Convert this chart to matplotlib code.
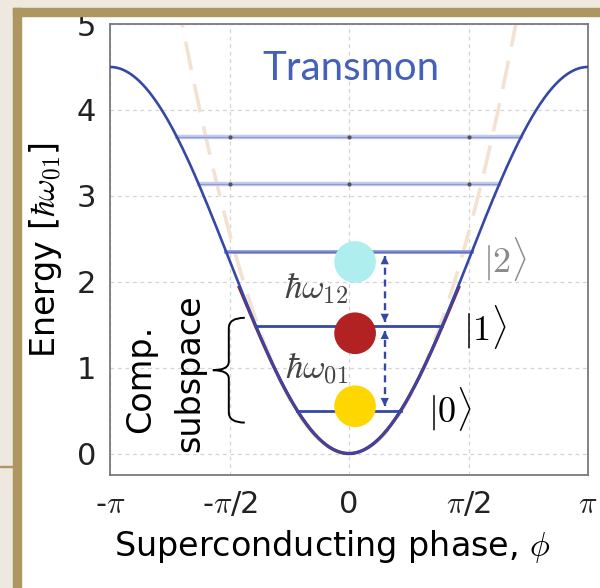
import numpy as np
import matplotlib
matplotlib.use("Agg")
import matplotlib.pyplot as plt
from matplotlib.patches import Rectangle, PathPatch
from matplotlib.path import Path

plt.rcParams["font.family"] = ["DejaVu Sans"]
plt.rcParams["mathtext.fontset"] = "cm"

# --- data ---
phase_ticks = [-np.pi, -np.pi / 2, 0, np.pi / 2, np.pi]
phase_tick_labels = [r"-$\pi$", r"-$\pi$/2", "0", r"$\pi$/2", r"$\pi$"]
energy_ticks = [0, 1, 2, 3, 4, 5]

barrier_height = 4.5          # cosine potential maximum at +-pi
harmonic_coeff = 1.04         # dashed harmonic guide, E = c * phi^2
level_energies = [0.50, 1.48, 2.35, 3.14, 3.69]

state_labels = [r"$|\mathsf{0}\rangle$", r"$|\mathsf{1}\rangle$", r"$|2\rangle$"]
state_phase = [1.33, 1.79, 2.05]
state_energy = [0.52, 1.47, 2.27]
state_colors = ["black", "black", "#8a8a8a"]

qubit_colors = ["#ffd700", "#b22222", "#afeeee"]
qubit_energies = [0.55, 1.40, 2.23]
qubit_phase = 0.08

transition_labels = [r"$\hbar\omega_{01}$", r"$\hbar\omega_{12}$"]
transition_label_phase = -0.43
transition_label_energy = [0.99, 1.93]
arrow_phase = 0.47

brace_span = (0.36, 1.58)
brace_phase = (-1.79, -1.37)

blue = "#3548a5"
phi = np.linspace(-np.pi, np.pi, 600)
potential = barrier_height / 2 * (1 - np.cos(phi))


def level_extent(e):
    return np.arccos(1 - 2 * e / barrier_height)


fig = plt.figure(figsize=(6.0, 5.88), dpi=100, facecolor="white")
ax = fig.add_axes([110 / 600, 1 - 475 / 588, 478 / 600, 451 / 588])

# harmonic guide
harm = harmonic_coeff * phi ** 2
ax.plot(phi[harm < 5.5], harm[harm < 5.5], color="#f3e2d2", lw=2.6,
        dashes=(8, 4), zorder=1)
# quartic approximation (hidden under the cosine)
quart = barrier_height / 2 * (phi ** 2 / 2 - phi ** 4 / 24)
m = np.abs(phi) < 1.45
ax.plot(phi[m], quart[m], color="#8b2040", lw=2.4, zorder=2)

# energy levels
for i, e in enumerate(level_energies):
    pc = level_extent(e)
    if i < 2:
        ax.plot([-pc, pc], [e, e], color=blue, lw=2.0, zorder=3)
    elif i == 2:
        ax.plot([-pc, pc], [e, e], color="#8391cf", lw=2.6, zorder=3)
        ax.plot([-pc, pc], [e, e], color="#5d6fbf", lw=0.8, zorder=3)
    else:
        ax.plot([-pc, pc], [e, e], color="#c6cdec", lw=3.2, zorder=3)
        ax.plot([-pc, pc], [e, e], color="#8d9ad3", lw=0.9, zorder=3)
        gx = [t for t in phase_ticks if abs(t) < pc]
        ax.plot(gx, [e] * len(gx), "o", ms=2, color="#555555", zorder=3)

# potential
ax.plot(phi, potential, color=blue, lw=1.9, zorder=4)

# transition arrows
gap = 0.05
for lo, hi in [(level_energies[1], level_energies[2]),
               (level_energies[0], level_energies[1])]:
    ax.plot([arrow_phase, arrow_phase], [lo + gap, hi - gap], color=blue,
            lw=1.7, dashes=(3, 2), zorder=5)
    ax.annotate("", xy=(arrow_phase, hi - gap), xytext=(arrow_phase, hi - 0.2),
                arrowprops=dict(arrowstyle="-|>", color=blue, lw=0,
                                mutation_scale=15, shrinkA=0, shrinkB=0),
                zorder=5)
    ax.annotate("", xy=(arrow_phase, lo + gap), xytext=(arrow_phase, lo + 0.2),
                arrowprops=dict(arrowstyle="-|>", color=blue, lw=0,
                                mutation_scale=15, shrinkA=0, shrinkB=0),
                zorder=5)

for lab, e in zip(transition_labels, transition_label_energy):
    ax.text(transition_label_phase, e, lab, fontsize=25, color="#444444",
            ha="center", va="center", zorder=5)

# qubit state dots
ax.scatter([qubit_phase] * 3, qubit_energies, s=900, c=qubit_colors,
           linewidths=0, zorder=6)

for lab, p, e, c in zip(state_labels, state_phase, state_energy, state_colors):
    ax.text(p, e, lab, fontsize=26, color=c, ha="center", va="center")

ax.text(0.02, 4.48, "Transmon", fontsize=29, color="#4460b8", family="Lato",
        ha="center", va="center")

# computational subspace brace
x0, x1 = brace_phase
xm = (x0 + x1) / 2
b0, b1 = brace_span
ym = (b0 + b1) / 2
verts = [(x1, b1), (xm, b1), (xm, b1 - 0.12),
         (xm, ym + 0.1), (xm, ym), (x0, ym),
         (xm, ym), (xm, ym - 0.1),
         (xm, b0 + 0.12), (xm, b0), (x1, b0)]
codes = [Path.MOVETO, Path.CURVE3, Path.CURVE3,
         Path.LINETO, Path.CURVE3, Path.CURVE3,
         Path.CURVE3, Path.CURVE3,
         Path.LINETO, Path.CURVE3, Path.CURVE3]
ax.add_patch(PathPatch(Path(verts, codes), fill=False, lw=1.4,
                       edgecolor="black", zorder=5))
ax.text(-2.74, 0.87, "Comp.", rotation=90, fontsize=24, ha="center",
        va="center")
ax.text(-2.09, 0.94, "subspace", rotation=90, fontsize=24, ha="center",
        va="center")

# axes styling
ax.set_xlim(-np.pi, np.pi)
ax.set_ylim(-0.25, 5.0)
ax.set_xticks(phase_ticks)
ax.set_xticklabels(phase_tick_labels)
ax.set_yticks(energy_ticks)
ax.tick_params(length=0, labelsize=22, labelcolor="#222222")
ax.tick_params(axis="x", pad=11)
ax.tick_params(axis="y", pad=10)
ax.grid(True, color="#d4d4d4", lw=0.9, dashes=(3, 3))
ax.set_axisbelow(True)
for s in ax.spines.values():
    s.set_color("#7a7a7a")
    s.set_linewidth(1.3)
ax.set_xlabel(r"Superconducting phase, $\phi$", fontsize=24)
ax.xaxis.set_label_coords(0.465, -0.118)
ax.set_ylabel(r"Energy [$\hbar\omega_{01}$]", fontsize=24, labelpad=9)

# picture frame
beige = "#eee8de"
gold = "#ad9660"
H = 588
fig.patches.append(Rectangle((0, 0), 13 / 600, 1, transform=fig.transFigure,
                             color=beige, zorder=10))
fig.patches.append(Rectangle((0, 1 - 8 / H), 1, 8 / H, transform=fig.transFigure,
                             color=beige, zorder=10))
fig.patches.append(Rectangle((13 / 600, 1 - 16 / H), 1, 8 / H,
                             transform=fig.transFigure, color=gold, zorder=11))
fig.patches.append(Rectangle((13 / 600, 0), 8 / 600, 1 - 8 / H,
                             transform=fig.transFigure, color=gold, zorder=11))
fig.patches.append(Rectangle((0, 1 - 467 / H), 13 / 600, 1.5 / H,
                             transform=fig.transFigure, color=gold, zorder=11))

fig.savefig("out.png", dpi=100, facecolor=fig.get_facecolor())
